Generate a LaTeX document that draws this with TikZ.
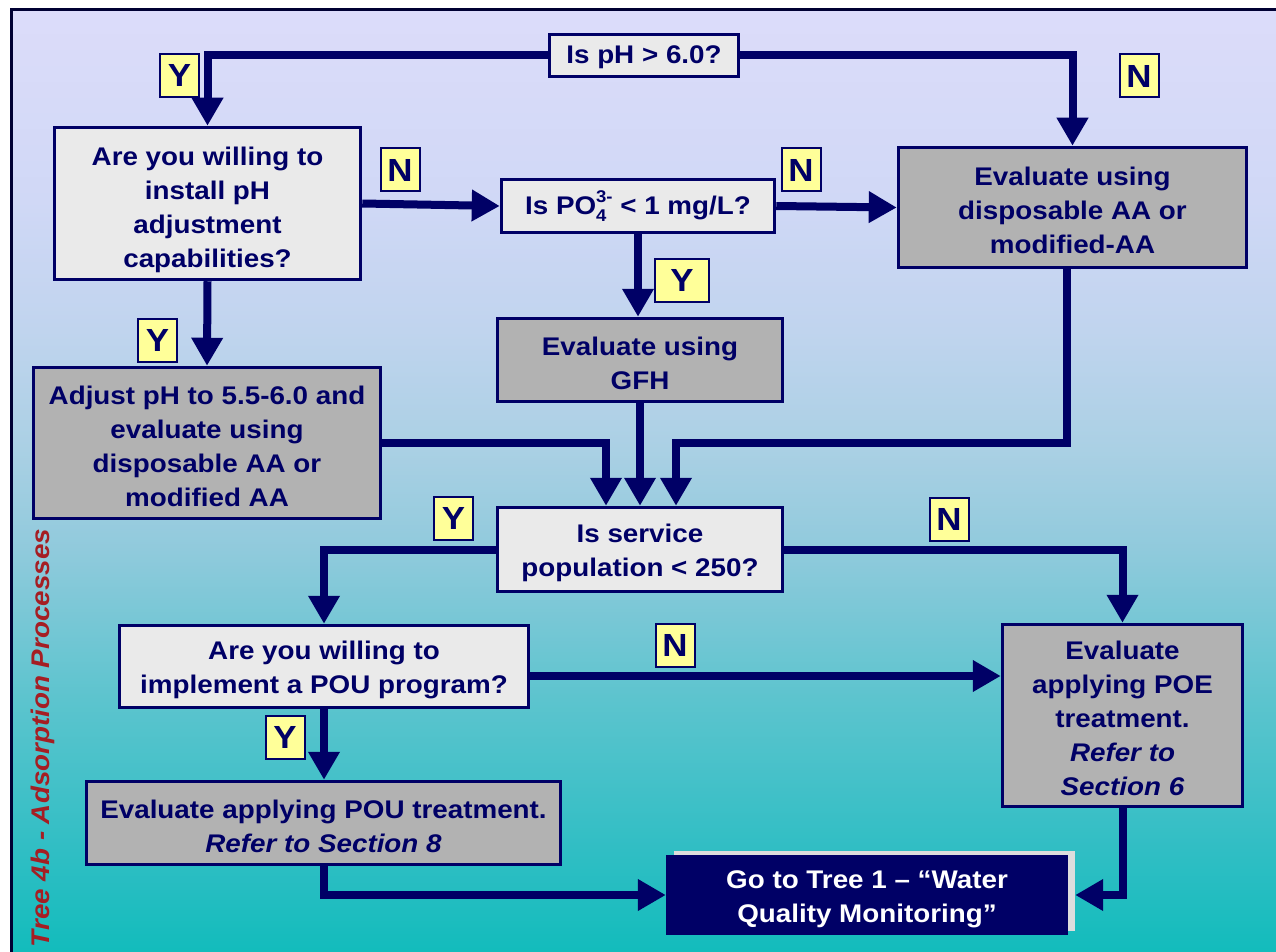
\documentclass[tikz,border=0pt]{standalone}
\usepackage{fontspec}
\setmainfont{Liberation Sans}[FakeStretch=1.09]
\usetikzlibrary{arrows.meta,calc}
\definecolor{navy}{HTML}{000066}
\definecolor{qfill}{HTML}{EAEAEA}
\definecolor{efill}{HTML}{B2B2B2}
\definecolor{lab}{HTML}{FFFF99}
\definecolor{titred}{HTML}{A51E23}
\definecolor{framec}{HTML}{000033}
\definecolor{shadowc}{HTML}{DDDDDD}
\definecolor{ga}{HTML}{DCDCFA}
\definecolor{gb}{HTML}{D0D8F6}
\definecolor{gc}{HTML}{C0D4EE}
\definecolor{gd}{HTML}{AAD0E4}
\definecolor{ge}{HTML}{90CADC}
\definecolor{gf}{HTML}{5CC4CE}
\definecolor{gg}{HTML}{30BEC4}
\definecolor{gh}{HTML}{12BCBC}
\pgfdeclareverticalshading{bgsh}{100bp}{color(0bp)=(gh); color(25.9bp)=(gh);
  color(31.25bp)=(gg); color(39.1bp)=(gf); color(46.9bp)=(ge); color(52.1bp)=(gd);
  color(58.3bp)=(gc); color(65.1bp)=(gb); color(75bp)=(ga); color(100bp)=(ga)}
\newcommand\fl[1][25]{\rule{0pt}{#1pt}}
\begin{document}
\begin{tikzpicture}[x=1pt,y=-1pt,
  box/.style={draw=navy, line width=3.5pt, inner sep=0pt, align=center, text=navy,
    font=\fontsize{25.5}{34}\selectfont\bfseries},
  qbox/.style={box, fill=qfill},
  ebox/.style={box, fill=efill},
  lbl/.style={draw=navy, line width=2pt, fill=lab, text=navy, inner sep=0pt,
    font=\fontsize{32}{32}\selectfont\bfseries, minimum height=43pt, minimum width=39pt},
  arr/.style={draw=navy, line width=8pt, -{Triangle[width=30pt,length=28pt]}}]
\useasboundingbox (0,0) rectangle (1276,952);
\clip (0,0) rectangle (1276,952);
\fill[white] (0,0) rectangle (1276,952);
\shade[shading=bgsh] (11,10) rectangle (1290,970);
\draw[line width=3pt, framec] (11,10) rectangle (1290,970);

% nodes
\node[qbox, minimum width=189pt, minimum height=42pt] (ph) at (644,55.5) {\fl[22]Is pH > 6.0?};
\node[qbox, minimum width=306pt, minimum height=152pt] (q1) at (207.5,203.5)
  {\fl[32]Are you willing to\\install pH\\adjustment\\capabilities?};
\node[qbox, minimum width=273pt, minimum height=53pt] (po4) at (638,206)
  {Is PO\rlap{\raisebox{-0.45ex}{\fontsize{17}{17}\selectfont 4}}\raisebox{0.9ex}{\fontsize{17}{17}\selectfont 3-} < 1 mg/L?};
\node[ebox, minimum width=348pt, minimum height=120pt] (aa) at (1072.5,207.5)
  {\fl Evaluate using\\disposable AA or\\modified-AA};
\node[ebox, minimum width=285pt, minimum height=83pt] (gfh) at (640,360)
  {\fl Evaluate using\\GFH};
\node[ebox, minimum width=347pt, minimum height=151pt] (adj) at (207,443)
  {\fl[26]Adjust pH to 5.5-6.0 and\\evaluate using\\disposable AA or\\modified AA};
\node[qbox, minimum width=285pt, minimum height=84pt] (svc) at (640,549.5)
  {\fl Is service\\population < 250?};
\node[qbox, minimum width=409pt, minimum height=82pt] (pouq) at (324,666.5)
  {\fl Are you willing to\\implement a POU program?};
\node[ebox, minimum width=240pt, minimum height=182pt] (poe) at (1122.5,715.5)
  {\fl Evaluate\\applying POE\\treatment.\\\textit{Refer to}\\\textit{Section 6}};
\node[ebox, minimum width=474pt, minimum height=83pt] (pout) at (323.5,823)
  {\fl Evaluate applying POU treatment.\\\textit{Refer to Section 8}};
\node[fill=shadowc, inner sep=0pt, minimum width=401pt, minimum height=80pt] (gotosh) at (874.5,891) {};
\node[fill=navy, text=white, inner sep=0pt, align=center, minimum width=402pt, minimum height=80pt,
  font=\fontsize{25.5}{34}\selectfont\bfseries] (goto) at (867,895)
  {\fl[27]Go to Tree 1 – “Water\\Quality Monitoring”};

% connectors
\draw[arr] (ph.west) -| (q1.north);
\draw[arr] (ph.east) -| (aa.north);
\draw[arr] (q1.east) -- (po4.west);
\draw[arr] (po4.east) -- (aa.west);
\draw[arr] (po4.south) -- (po4.south |- gfh.north);
\draw[arr] (q1.south) -- (adj.north);
\coordinate (sin1) at ([xshift=-34pt]svc.north);
\coordinate (sin3) at ([xshift=36pt]svc.north);
\coordinate (aaout) at ([xshift=-6pt]aa.south);
\draw[arr] (adj.east) -| (sin1);
\draw[arr] (gfh.south) -- (svc.north);
\draw[arr] (aaout) |- (sin3 |- adj.east) -- (sin3);
\draw[arr] (svc.west) -| (pouq.north);
\draw[arr] (svc.east) -| (poe.north);
\coordinate (pq) at ([yshift=-9.5pt]pouq.east);
\draw[arr] (pq) -- (pq -| poe.west);
\draw[arr] (pouq.south) -- (pouq.south |- pout.north);
\draw[arr] (pout.south) |- (goto.west);
\draw[arr] (poe.south) |- ([xshift=7pt]goto.east);

% labels
\node[lbl] (y1) at (179.5,75.5) {Y};
\node[lbl] (n1) at (1139,76) {N};
\node[lbl] (n2) at (400,170) {N};
\node[lbl] (n3) at (801,170) {N};
\node[lbl, minimum width=54pt] (y2) at (682,280) {Y};
\node[lbl] (y3) at (157.5,340) {Y};
\node[lbl] (y4) at (453.5,518) {Y};
\node[lbl] (n4) at (949,519.5) {N};
\node[lbl] (n5) at (675,645.5) {N};
\node[lbl] (y5) at (285,737.5) {Y};

% title
\node[rotate=90, text=titred, inner sep=0pt, font=\fontsize{25.5}{25.5}\selectfont\bfseries\itshape] (title) at (43,738)
  {Tree 4b - Adsorption Processes};
\end{tikzpicture}
\end{document}
